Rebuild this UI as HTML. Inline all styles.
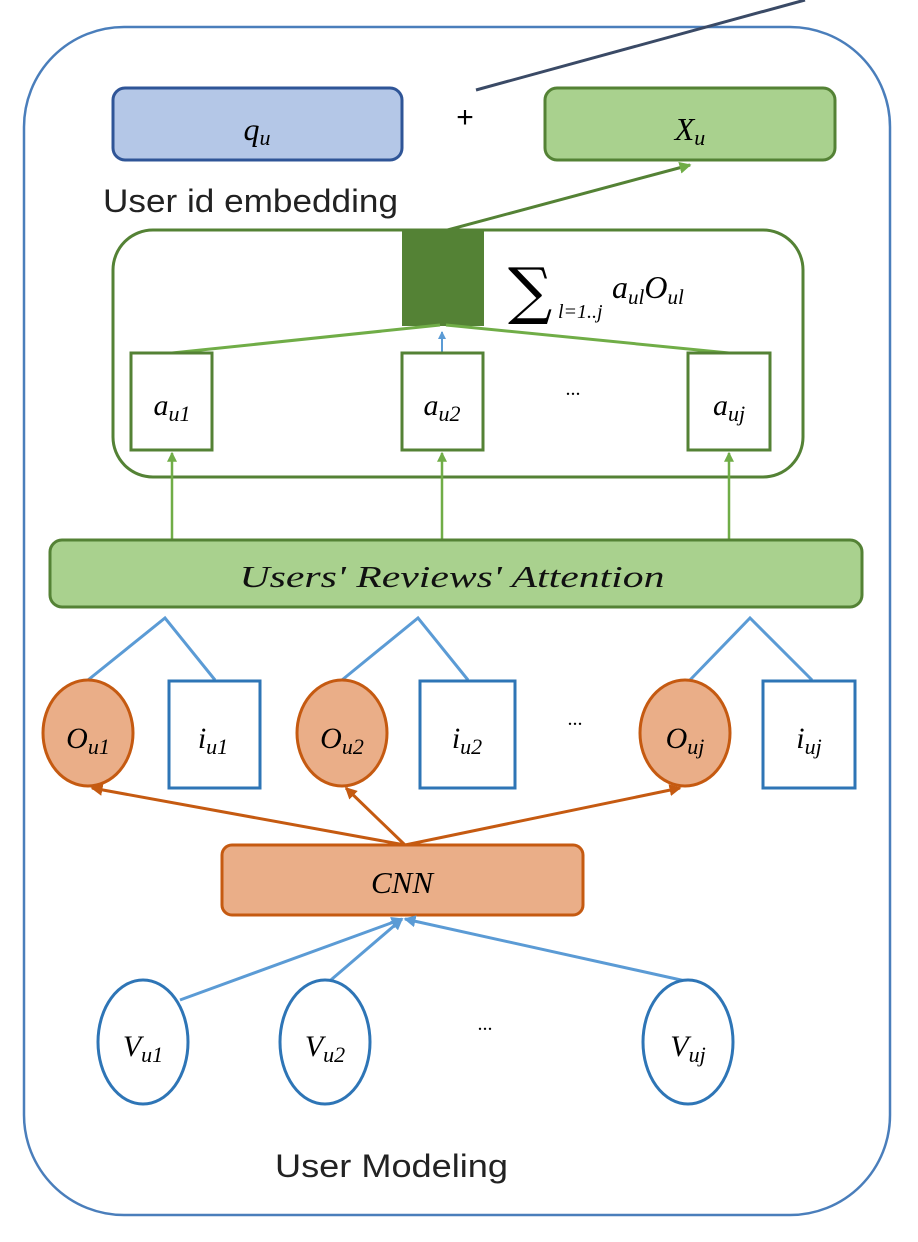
<!DOCTYPE html>
<html><head><meta charset="utf-8"><style>body{margin:0;background:#fff}svg{display:block}</style></head><body>
<svg width="918" height="1242" viewBox="0 0 918 1242" xmlns="http://www.w3.org/2000/svg" font-family="Liberation Serif, serif">
<defs>
<marker id="ag" markerWidth="4" markerHeight="4" refX="3.5" refY="2" orient="auto"><path d="M0,0L4,2L0,4z" fill="#70ad47"/></marker>
<marker id="ab" markerWidth="4" markerHeight="4" refX="3.5" refY="2" orient="auto"><path d="M0,0L4,2L0,4z" fill="#5b9bd5"/></marker>
<marker id="ao" markerWidth="4" markerHeight="4" refX="3.5" refY="2" orient="auto"><path d="M0,0L4,2L0,4z" fill="#c55a11"/></marker>
</defs>
<rect x="24" y="27" width="866" height="1188" rx="100" fill="none" stroke="#4a7ebb" stroke-width="2.5"/>
<line x1="476" y1="90" x2="805" y2="0" stroke="#3a4a66" stroke-width="3"/>
<rect x="113" y="88" width="289" height="72" rx="12" fill="#b4c7e7" stroke="#2f5597" stroke-width="3"/>
<text x="257" y="140" font-size="32" font-style="italic" text-anchor="middle">q<tspan font-size="22" dy="5">u</tspan></text>
<text x="465" y="127" font-size="30" text-anchor="middle" font-family="Liberation Sans, sans-serif">+</text>
<rect x="545" y="88" width="290" height="72" rx="12" fill="#a9d18e" stroke="#548235" stroke-width="3"/>
<text x="690" y="140" font-size="32" font-style="italic" text-anchor="middle">X<tspan font-size="22" dy="5">u</tspan></text>
<text x="103" y="212" font-size="32" font-family="Liberation Sans, sans-serif" fill="#222" textLength="295" lengthAdjust="spacingAndGlyphs">User id embedding</text>
<line x1="440" y1="232" x2="690" y2="165" stroke="#548235" stroke-width="3" marker-end="url(#ag)"/>
<rect x="113" y="230" width="690" height="247" rx="40" fill="none" stroke="#548235" stroke-width="3"/>
<rect x="402" y="230" width="82" height="96" fill="#548235"/>
<text x="508" y="312" font-size="62" font-family="DejaVu Serif, serif">∑</text>
<text x="558" y="318" font-size="20" font-style="italic">l=1..j</text>
<text x="612" y="298" font-size="32" font-style="italic">a<tspan font-size="21" dy="6">ul</tspan><tspan dy="-6">O</tspan><tspan font-size="21" dy="6">ul</tspan></text>
<g stroke="#70ad47" stroke-width="3" fill="none">
<line x1="172" y1="353" x2="440" y2="325"/><line x1="729" y1="353" x2="446" y2="325"/>
</g>
<line x1="442" y1="353" x2="442" y2="332" stroke="#5b9bd5" stroke-width="2" marker-end="url(#ab)"/>
<g fill="#fff" stroke="#548235" stroke-width="3">
<rect x="131" y="353" width="81" height="97"/><rect x="402" y="353" width="81" height="97"/><rect x="688" y="353" width="82" height="97"/>
</g>
<g font-size="30" font-style="italic" text-anchor="middle">
<text x="172" y="415">a<tspan font-size="22" dy="6">u1</tspan></text>
<text x="442" y="415">a<tspan font-size="22" dy="6">u2</tspan></text>
<text x="729" y="415">a<tspan font-size="22" dy="6">uj</tspan></text>
</g>
<text x="573" y="395" font-size="20" text-anchor="middle">...</text>
<g stroke="#70ad47" stroke-width="2.5" marker-end="url(#ag)">
<line x1="172" y1="540" x2="172" y2="453"/><line x1="442" y1="540" x2="442" y2="453"/><line x1="729" y1="540" x2="729" y2="453"/>
</g>
<rect x="50" y="540" width="812" height="67" rx="12" fill="#a9d18e" stroke="#548235" stroke-width="3"/>
<text x="452" y="587" font-size="31" font-style="italic" text-anchor="middle" fill="#111" textLength="425" lengthAdjust="spacingAndGlyphs">Users' Reviews' Attention</text>
<g stroke="#5b9bd5" stroke-width="3" fill="none">
<polyline points="88,680 165,618 215,680"/><polyline points="342,680 418,618 468,680"/><polyline points="690,680 750,618 812,680"/>
</g>
<g fill="#eaae88" stroke="#c55a11" stroke-width="3">
<ellipse cx="88" cy="733" rx="45" ry="53"/><ellipse cx="342" cy="733" rx="45" ry="53"/><ellipse cx="685" cy="733" rx="45" ry="53"/>
</g>
<g fill="#fff" stroke="#2e75b6" stroke-width="3">
<rect x="169" y="681" width="91" height="107"/><rect x="420" y="681" width="95" height="107"/><rect x="763" y="681" width="92" height="107"/>
</g>
<g font-size="30" font-style="italic" text-anchor="middle">
<text x="88" y="748">O<tspan font-size="22" dy="6">u1</tspan></text>
<text x="342" y="748">O<tspan font-size="22" dy="6">u2</tspan></text>
<text x="685" y="748">O<tspan font-size="22" dy="6">uj</tspan></text>
<text x="213" y="748">i<tspan font-size="22" dy="6">u1</tspan></text>
<text x="467" y="748">i<tspan font-size="22" dy="6">u2</tspan></text>
<text x="809" y="748">i<tspan font-size="22" dy="6">uj</tspan></text>
</g>
<text x="575" y="725" font-size="20" text-anchor="middle">...</text>
<g stroke="#c55a11" stroke-width="3" marker-end="url(#ao)">
<line x1="405" y1="845" x2="92" y2="788"/><line x1="405" y1="845" x2="346" y2="788"/><line x1="405" y1="845" x2="680" y2="788"/>
</g>
<rect x="222" y="845" width="361" height="70" rx="10" fill="#eaae88" stroke="#c55a11" stroke-width="3"/>
<text x="402" y="893" font-size="31" font-style="italic" text-anchor="middle">CNN</text>
<g stroke="#5b9bd5" stroke-width="3" marker-end="url(#ab)">
<line x1="180" y1="1000" x2="402" y2="919"/><line x1="325" y1="985" x2="402" y2="919"/><line x1="690" y1="982" x2="405" y2="919"/>
</g>
<g fill="#fff" stroke="#2e75b6" stroke-width="3">
<ellipse cx="143" cy="1042" rx="45" ry="62"/><ellipse cx="325" cy="1042" rx="45" ry="62"/><ellipse cx="688" cy="1042" rx="45" ry="62"/>
</g>
<g font-size="30" font-style="italic" text-anchor="middle">
<text x="143" y="1056">V<tspan font-size="22" dy="6">u1</tspan></text>
<text x="325" y="1056">V<tspan font-size="22" dy="6">u2</tspan></text>
<text x="688" y="1056">V<tspan font-size="22" dy="6">uj</tspan></text>
</g>
<text x="485" y="1030" font-size="20" text-anchor="middle">...</text>
<text x="275" y="1177" font-size="32" font-family="Liberation Sans, sans-serif" fill="#222" textLength="233" lengthAdjust="spacingAndGlyphs">User  Modeling</text>
</svg>
</body></html>
